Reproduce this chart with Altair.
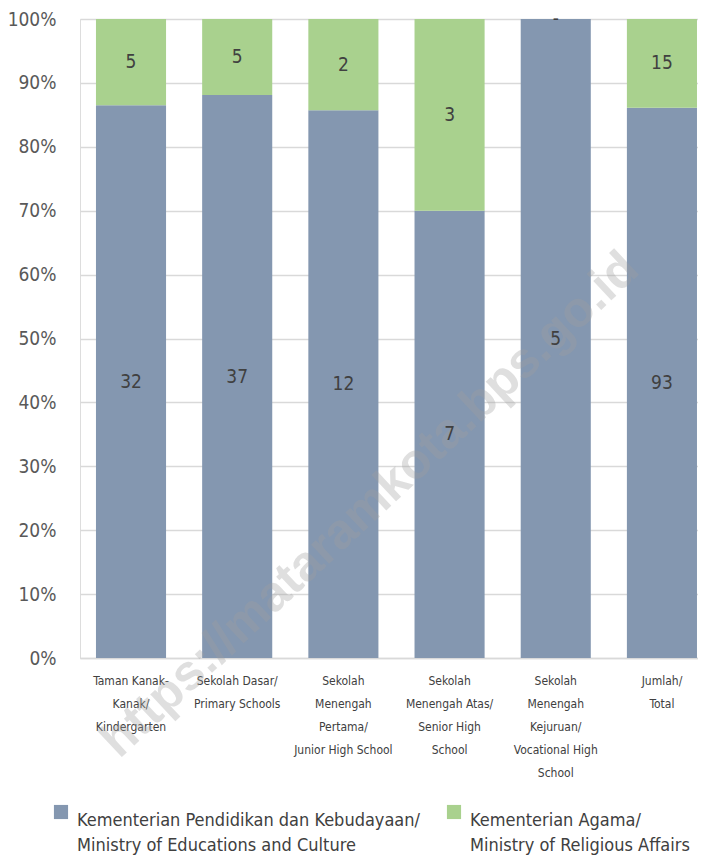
import altair as alt
import pandas as pd

categories = [
    "Taman Kanak-|Kanak/|Kindergarten",
    "Sekolah Dasar/|Primary Schools",
    "Sekolah|Menengah|Pertama/|Junior High School",
    "Sekolah|Menengah Atas/|Senior High|School",
    "Sekolah|Menengah|Kejuruan/|Vocational High|School",
    "Jumlah/|Total",
]
series_names = [
    "Kementerian Pendidikan dan Kebudayaan/|Ministry of Educations and Culture",
    "Kementerian Agama/|Ministry of Religious Affairs",
]
kemendikbud = [32, 37, 12, 7, 5, 93]
kemenag = [5, 5, 2, 3, 0, 15]
colors = ["#8497B0", "#A9D18E"]
watermark = "https://mataramkota.bps.go.id"

rows = []
for i, c in enumerate(categories):
    for j, vals in enumerate([kemendikbud, kemenag]):
        v = vals[i]
        rows.append({"cat": c, "series": series_names[j], "order": j,
                     "value": v, "label": str(v) if v > 0 else "-"})
df = pd.DataFrame(rows)

FONT = "DejaVu Sans Condensed"

base = alt.Chart(df).transform_stack(
    stack="value", groupby=["cat"], as_=["y0", "y1"], offset="normalize",
    sort=[alt.SortField("order", order="ascending")]
).transform_calculate(mid="(datum.y0 + datum.y1) / 2")

xenc = alt.X("cat:N", sort=categories, title=None,
             scale=alt.Scale(paddingInner=0.34, paddingOuter=0.08, align=0.94),
             axis=alt.Axis(labelExpr="split(datum.label, '|')", labelAngle=0,
                           labelFontSize=12, labelLineHeight=23, labelColor="#404040",
                           labelPadding=17, ticks=False, tickSize=0, domain=True,
                           domainColor="#d9d9d9", domainWidth=1.5, labelLimit=200,
                           labelFont=FONT, labelBaseline="top"))

bars = base.mark_bar().encode(
    x=xenc,
    y=alt.Y("y0:Q", title=None, scale=alt.Scale(domain=[0, 1]),
            axis=alt.Axis(format="%", values=[i / 10 for i in range(11)],
                          labelFontSize=19, labelColor="#595959", labelFont=FONT,
                          ticks=False, tickSize=0, domain=False, labelPadding=24,
                          gridColor="#d9d9d9", gridWidth=1.5)),
    y2="y1:Q",
    color=alt.Color("series:N", sort=series_names,
                    scale=alt.Scale(domain=series_names, range=colors),
                    legend=alt.Legend(title=None, orient="none", legendX=-28, legendY=784,
                                      direction="horizontal",
                                      labelExpr="split(datum.label, '|')",
                                      labelFontSize=18,
                                      labelFont=FONT,
                                      labelColor="#404040", labelLimit=420,
                                      symbolType="square", symbolSize=200,
                                      symbolStrokeWidth=0, labelOffset=7,
                                      columnPadding=24, labelBaseline="top")),
)

labels = base.mark_text(fontSize=19, font=FONT, color="#404040").encode(
    x=alt.X("cat:N", sort=categories),
    y=alt.Y("mid:Q"),
    text="label:N",
)

wm = alt.Chart(pd.DataFrame({"t": [watermark]})).mark_text(
    font="Liberation Sans", fontWeight="bold", fontSize=50, angle=317,
    color="#a0a0a0", opacity=0.33, align="center", baseline="middle"
).encode(x=alt.value(290), y=alt.value(486), text="t:N")

chart = alt.layer(bars, wm, labels).properties(
    width=618, height=639,
    autosize=alt.AutoSizeParams(type="none"),
    padding={"left": 72, "top": 11, "right": 0, "bottom": 200},
).configure_view(stroke=None).configure(
    font=FONT, style={"guide-label": {"lineHeight": 25}}
)

chart.save("out.html", embed_options={"renderer": "svg", "actions": False})
